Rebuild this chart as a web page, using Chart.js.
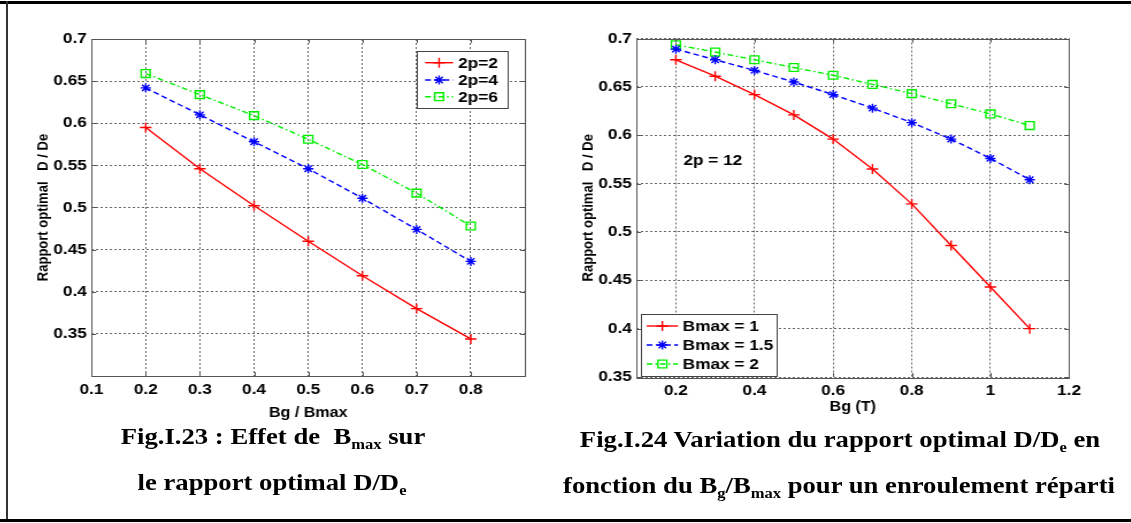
<!DOCTYPE html>
<html lang="fr">
<head>
<meta charset="UTF-8">
<title>Rapport optimal D/De</title>
<style>
body { margin: 0; background: #fff; }
.page { position: relative; width: 1131px; height: 523px; overflow: hidden; background: #fff; }
.rule-top { position: absolute; left: 0; top: 1px; width: 1131px; height: 3px; background: #000; }
.rule-bottom { position: absolute; left: 0; top: 519px; width: 1131px; height: 3px; background: #000; }
.rule-left { position: absolute; left: 6px; top: 1px; width: 2px; height: 521px; background: #333; }
.plot { position: absolute; top: 20px; transform: scaleX(1.15); transform-origin: 0 0; }
.plot canvas { display: block; }
.caption {
    position: absolute; width: 600px; text-align: center; white-space: nowrap;
    font-family: "Liberation Serif", "Times New Roman", serif; font-weight: bold;
    font-size: 23px; line-height: 30px; transform: scaleX(1.16); color: #000;
}
.caption sub { font-size: 0.62em; vertical-align: -0.35em; line-height: 0; }
</style>
</head>
<body>
<div class="page">
    <div class="rule-top"></div>
    <div class="rule-left"></div>
    <div class="rule-bottom"></div>

    <div class="plot" style="left:20px"><canvas id="fig23" width="456" height="405"></canvas></div>
    <div class="plot" style="left:565px"><canvas id="fig24" width="474" height="405"></canvas></div>

    <div class="caption" style="left:-27px; top:422px">Fig.I.23 : Effet de&nbsp; B<sub>max</sub> sur</div>
    <div class="caption" style="left:-28px; top:468px">le rapport optimal D/D<sub>e</sub></div>
    <div class="caption" style="left:540px; top:425px">Fig.I.24 Variation du rapport optimal D/D<sub>e</sub> en</div>
    <div class="caption" style="left:539px; top:471px">fonction du B<sub>g</sub>/B<sub>max</sub> pour un enroulement réparti</div>
</div>

<script src="https://cdn.jsdelivr.net/npm/chart.js"></script>
<script>
// Fig.I.23 : effet de Bmax (x = Bg/Bmax)
const ratioX = [0.2, 0.3, 0.4, 0.5, 0.6, 0.7, 0.8];
const pole2 = [0.595, 0.546, 0.502, 0.460, 0.419, 0.380, 0.344];
const pole4 = [0.642, 0.610, 0.578, 0.546, 0.511, 0.474, 0.436];
const pole6 = [0.659, 0.634, 0.609, 0.581, 0.551, 0.517, 0.478];
const fig23Labels = ['2p=2', '2p=4', '2p=6'];
const fig23XTicks = [0.1, 0.2, 0.3, 0.4, 0.5, 0.6, 0.7, 0.8];
const fig23YTicks = [0.35, 0.4, 0.45, 0.5, 0.55, 0.6, 0.65, 0.7];

// Fig.I.24 : 2p = 12, x = Bg (T)
const bgX = [0.2, 0.3, 0.4, 0.5, 0.6, 0.7, 0.8, 0.9, 1.0, 1.1];
const bmax1 = [0.678, 0.661, 0.642, 0.621, 0.596, 0.565, 0.529, 0.486, 0.443, 0.400];
const bmax15 = [0.689, 0.678, 0.667, 0.655, 0.642, 0.628, 0.613, 0.596, 0.576, 0.554];
const bmax2 = [0.6935, 0.686, 0.678, 0.670, 0.662, 0.6525, 0.643, 0.6325, 0.622, 0.610];
const fig24Labels = ['Bmax = 1', 'Bmax = 1.5', 'Bmax = 2'];
const fig24XTicks = [0.2, 0.4, 0.6, 0.8, 1, 1.2];
const fig24YTicks = [0.35, 0.4, 0.45, 0.5, 0.55, 0.6, 0.65, 0.7];

const FONT = '"Liberation Sans", Arial, sans-serif';

// styles matlab : '-+' rouge, '--*' bleu, '-.s' vert
const styles = [
    { color: '#ff0000', dash: [], point: 'cross', radius: 5 },
    { color: '#0000ff', dash: [5, 3], point: 'star', radius: 4.5 },
    { color: '#00f000', dash: [5, 2.5, 1.5, 2.5], point: 'rect', radius: 5.5 }
];

function serie(xs, ys, label, i) {
    const s = styles[i];
    return {
        label: label,
        data: xs.map((x, k) => ({ x: x, y: ys[k] })),
        borderColor: s.color,
        borderWidth: 1.4,
        borderDash: s.dash,
        pointStyle: s.point,
        pointRadius: s.radius,
        pointBorderColor: s.color,
        pointBackgroundColor: 'rgba(0,0,0,0)',
        pointBorderWidth: 1.4,
        tension: 0,
        fill: false
    };
}

const fmt = v => String(Math.round(v * 100) / 100);

// cadre, petites graduations, légende et texte façon matlab
const matlabAxes = {
    id: 'matlabAxes',
    afterDatasetsDraw(chart, args, opts) {
        const { ctx, chartArea: a, scales } = chart;
        ctx.save();
        ctx.strokeStyle = '#555';
        ctx.lineWidth = 1;
        ctx.setLineDash([]);
        ctx.beginPath();
        scales.x.ticks.forEach(t => {
            const px = Math.round(scales.x.getPixelForValue(t.value)) + 0.5;
            ctx.moveTo(px, a.bottom); ctx.lineTo(px, a.bottom - 4);
            ctx.moveTo(px, a.top); ctx.lineTo(px, a.top + 4);
        });
        scales.y.ticks.forEach(t => {
            const py = Math.round(scales.y.getPixelForValue(t.value)) + 0.5;
            ctx.moveTo(a.left, py); ctx.lineTo(a.left + 4, py);
            ctx.moveTo(a.right, py); ctx.lineTo(a.right - 4, py);
        });
        ctx.stroke();
        ctx.strokeRect(Math.round(a.left) + 0.5, Math.round(a.top) + 0.5,
            Math.round(a.right - a.left), Math.round(a.bottom - a.top));

        if (opts.note) {
            ctx.fillStyle = '#000';
            ctx.font = 'bold 15px ' + FONT;
            ctx.textAlign = 'center';
            ctx.textBaseline = 'middle';
            ctx.fillText(opts.note.text, scales.x.getPixelForValue(opts.note.x), scales.y.getPixelForValue(opts.note.y));
        }

        const L = opts.legend;
        const bx = L.right !== undefined ? a.right - L.right - L.w : a.left + L.left;
        const by = L.top !== undefined ? a.top + L.top : a.bottom - L.bottom - L.h;
        ctx.fillStyle = '#fff';
        ctx.fillRect(bx, by, L.w, L.h);
        ctx.strokeStyle = '#444';
        ctx.strokeRect(Math.round(bx) + 0.5, Math.round(by) + 0.5, Math.round(L.w), Math.round(L.h));
        chart.data.datasets.forEach((ds, i) => {
            const y = by + L.rows[i];
            ctx.strokeStyle = ds.borderColor;
            ctx.lineWidth = ds.borderWidth;
            ctx.setLineDash(ds.borderDash);
            ctx.beginPath();
            ctx.moveTo(bx + L.line[0], y);
            ctx.lineTo(bx + L.line[1], y);
            ctx.stroke();
            ctx.setLineDash([]);
            ctx.fillStyle = 'rgba(0,0,0,0)';
            Chart.helpers.drawPoint(ctx, {
                pointStyle: ds.pointStyle, radius: ds.pointRadius,
                borderWidth: ds.pointBorderWidth, rotation: 0
            }, bx + (L.line[0] + L.line[1]) / 2, y);
            ctx.fillStyle = '#000';
            ctx.font = 'bold 15px ' + FONT;
            ctx.textAlign = 'left';
            ctx.textBaseline = 'middle';
            ctx.fillText(ds.label, bx + L.text, y + 1);
        });
        ctx.restore();
    }
};

function makeChart(id, datasets, x, y, extra) {
    new Chart(document.getElementById(id), {
        type: 'line',
        data: { datasets: datasets },
        plugins: [matlabAxes],
        options: {
            responsive: false,
            animation: false,
            events: [],
            layout: { padding: { top: extra.top, right: extra.right, left: 0, bottom: 0 } },
            plugins: {
                legend: { display: false },
                tooltip: { enabled: false },
                matlabAxes: { legend: extra.legend, note: extra.note }
            },
            scales: {
                x: {
                    type: 'linear', min: x.min, max: x.max,
                    afterBuildTicks: s => { s.ticks = x.ticks.map(v => ({ value: v })); },
                    afterFit: s => { s.height = extra.xHeight; },
                    grid: { color: 'rgba(0,0,0,0.6)', lineWidth: 1, drawTicks: false },
                    border: { display: false, dash: [2, 2] },
                    ticks: {
                        color: '#000', padding: 5, maxRotation: 0, autoSkip: false,
                        font: { family: FONT, size: 15, weight: 'bold' },
                        callback: fmt
                    },
                    title: {
                        display: true, text: x.title, color: '#000',
                        font: { family: FONT, size: 14, weight: 'bold' },
                        padding: { top: 0, bottom: extra.xTitlePad }
                    }
                },
                y: {
                    type: 'linear', min: y.min, max: y.max,
                    afterBuildTicks: s => { s.ticks = y.ticks.map(v => ({ value: v })); },
                    afterFit: s => { s.width = 62.2; },
                    grid: { color: 'rgba(0,0,0,0.6)', lineWidth: 1, drawTicks: false },
                    border: { display: false, dash: [2, 2] },
                    ticks: {
                        color: '#000', padding: 4, autoSkip: false,
                        font: { family: FONT, size: 15, weight: 'bold' },
                        callback: fmt
                    },
                    title: {
                        display: true, text: y.title, color: '#000',
                        font: { family: FONT, size: 13, weight: 'bold' },
                        padding: { top: extra.yTitlePad, bottom: 0 }
                    }
                }
            }
        }
    });
}

makeChart('fig23',
    [serie(ratioX, pole2, fig23Labels[0], 0), serie(ratioX, pole4, fig23Labels[1], 1), serie(ratioX, pole6, fig23Labels[2], 2)],
    { min: 0.1, max: 0.9, ticks: fig23XTicks, title: 'Bg / Bmax' },
    { min: 0.3, max: 0.7, ticks: fig23YTicks, title: 'Rapport optimal   D / De' },
    {
        top: 19, right: 16.9, xHeight: 49, xTitlePad: 3.9, yTitlePad: 12.7,
        legend: { right: 14.8, top: 12, w: 79, h: 57, line: [7, 31.3], text: 35.7, rows: [11.7, 29, 45.7] }
    });

makeChart('fig24',
    [serie(bgX, bmax1, fig24Labels[0], 0), serie(bgX, bmax15, fig24Labels[1], 1), serie(bgX, bmax2, fig24Labels[2], 2)],
    { min: 0.1, max: 1.2, ticks: fig24XTicks, title: 'Bg (T)' },
    { min: 0.35, max: 0.7, ticks: fig24YTicks, title: 'Rapport optimal   D / De' },
    {
        top: 18.5, right: 35.7, xHeight: 48, xTitlePad: 9.9, yTitlePad: 13.1,
        legend: { left: 3.9, bottom: 1, w: 118.2, h: 62, line: [4.9, 32.2], text: 36.2, rows: [12, 31, 50] },
        note: { text: '2p = 12', x: 0.294, y: 0.5733 }
    });
</script>
</body>
</html>
